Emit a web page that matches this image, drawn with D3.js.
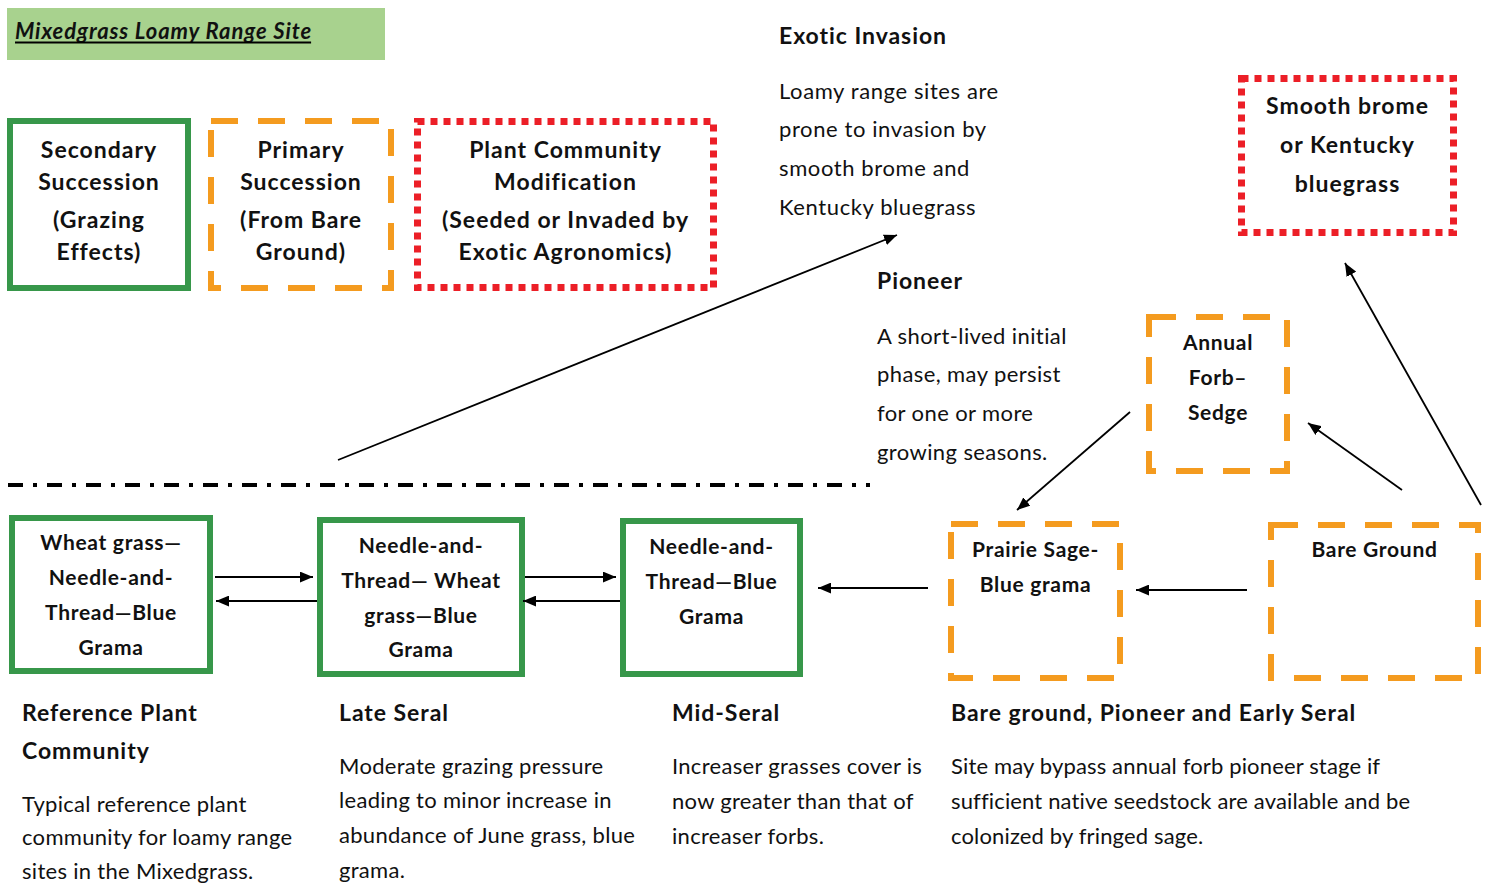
<!DOCTYPE html>
<html>
<head>
<meta charset="utf-8">
<script src="https://cdn.jsdelivr.net/npm/d3@7"></script>
<style>
  body { margin: 0; background: #fff; }
  text { font-family: Lato, "Open Sans", sans-serif; fill: #111; }
</style>
</head>
<body>
<script>
// ---- content ----
var titleText = "Mixedgrass Loamy Range Site";

var legendLabels = [
  ["Secondary", "Succession", "(Grazing", "Effects)"],
  ["Primary", "Succession", "(From Bare", "Ground)"],
  ["Plant Community", "Modification", "(Seeded or Invaded by", "Exotic Agronomics)"]
];
var legendKinds = ["solid", "dashed", "dotted"];

var stateLabels = [
  ["Wheat grass\u2014", "Needle-and-", "Thread\u2014Blue", "Grama"],
  ["Needle-and-", "Thread\u2014 Wheat", "grass\u2014Blue", "Grama"],
  ["Needle-and-", "Thread\u2014Blue", "Grama"],
  ["Prairie Sage-", "Blue grama"],
  ["Bare Ground"],
  ["Annual", "Forb\u2013", "Sedge"],
  ["Smooth brome", "or Kentucky", "bluegrass"]
];
var stateKinds = ["solid", "solid", "solid", "dashed", "dashed", "dashed", "dotted"];

var noteTitles = [
  ["Exotic Invasion"],
  ["Pioneer"],
  ["Reference Plant", "Community"],
  ["Late Seral"],
  ["Mid-Seral"],
  ["Bare ground, Pioneer and Early Seral"]
];
var noteBodies = [
  ["Loamy range sites are", "prone to invasion by", "smooth brome and", "Kentucky bluegrass"],
  ["A short-lived initial", "phase, may persist", "for one or more", "growing seasons."],
  ["Typical reference plant", "community for loamy range", "sites in the Mixedgrass."],
  ["Moderate grazing pressure", "leading to minor increase in", "abundance of June grass, blue", "grama."],
  ["Increaser grasses cover is", "now greater than that of", "increaser forbs."],
  ["Site may bypass annual forb pioneer stage if", "sufficient native seedstock are available and be", "colonized by fringed sage."]
];

// ---- layout (pixels) ----
var legendBoxes = [[7,118,191,291],[208,118,394,291],[414,118,717,291]];
var legendLineY = [150,182,220,252];
var stateBoxes = [[9,515,213,674],[317,517,525,677],[620,518,803,677],[948,521,1123,681],
                  [1268,522,1481,681],[1146,314,1290,474],[1238,75,1457,236]];
var stateFirstY = [543,546,547,550,550,343,106];
var stateStep = [35,34.7,35,35,35,35,39];
var noteX = [779,877,22,339,672,951];
var noteTitleY = [36,281,713,713,713,713];
var noteBodyY = [91,336,804,766,766,766];
var noteBodyStep = [38.7,38.7,33.5,34.7,35,35];
var noteBodySpacing = [0.6,0.4,0.3,0.3,0.3,0.15];
var arrows = [
  [215,577,313,577],[317,601,216,601],[525,577,616,577],[620,601,523,601],
  [928,588,818,588],[1247,590,1136,590],
  [338,460,897,235],[1130,412,1017,510],[1402,490,1308,423],[1481,505,1345,263]
];

var colors = {solid:"#37974a", dashed:"#f49b1f", dotted:"#ec1f27"};
var dashes = {solid:null, dashed:"27,20", dotted:"7,6"};

var width = 1493, height = 884;
var svg = d3.select("body").append("svg")
  .attr("width", width).attr("height", height);

// arrow head
svg.append("defs").append("marker")
  .attr("id", "head")
  .attr("viewBox", "0 0 12 10")
  .attr("refX", 12).attr("refY", 5)
  .attr("markerWidth", 13).attr("markerHeight", 11)
  .attr("markerUnits", "userSpaceOnUse")
  .attr("orient", "auto")
  .append("path").attr("d", "M0,0 L12,5 L0,10 Z").attr("fill", "#000");

// title
svg.append("rect").attr("x", 7).attr("y", 8).attr("width", 378).attr("height", 52).attr("fill", "#a8d28e");
var t = svg.append("text").attr("x", 15).attr("y", 39)
  .attr("font-size", 22).attr("font-weight", "bold").attr("font-style", "italic")
  .attr("letter-spacing", 0.9)
  .text(titleText);
var tw = t.node().getComputedTextLength();
svg.append("line").attr("x1", 15).attr("x2", 14 + tw).attr("y1", 42.5).attr("y2", 42.5)
  .attr("stroke", "#000").attr("stroke-width", 2);

function drawBox(b, kind) {
  var sw = kind === "dotted" ? 7 : 6;
  svg.append("rect")
    .attr("x", b[0] + sw/2).attr("y", b[1] + sw/2)
    .attr("width", b[2] - b[0] - sw).attr("height", b[3] - b[1] - sw)
    .attr("fill", "none")
    .attr("stroke", colors[kind])
    .attr("stroke-width", sw)
    .attr("stroke-dasharray", dashes[kind]);
}

function drawLines(lines, cx, y0, step, size, weight, anchor, ls) {
  svg.append("g").selectAll("text")
    .data(lines)
    .enter()
    .append("text")
    .attr("x", cx)
    .attr("y", function(d, i) { return y0 + i * step; })
    .attr("dy", "0.35em")
    .attr("text-anchor", anchor)
    .attr("font-size", size)
    .attr("font-weight", weight)
    .attr("letter-spacing", ls)
    .text(function(d) { return d; });
}

// legend boxes
legendLabels.forEach(function(lines, i) {
  var b = legendBoxes[i];
  drawBox(b, legendKinds[i]);
  var ys = legendLineY;
  svg.append("g").selectAll("text").data(lines).enter().append("text")
    .attr("x", (b[0] + b[2]) / 2)
    .attr("y", function(d, j) { return ys[j]; })
    .attr("dy", "0.35em").attr("text-anchor", "middle")
    .attr("font-size", 23).attr("font-weight", "bold")
    .attr("letter-spacing", 1)
    .text(function(d) { return d; });
});

// state boxes
stateLabels.forEach(function(lines, i) {
  var b = stateBoxes[i];
  drawBox(b, stateKinds[i]);
  var fs = i === 6 ? 23 : 21;
  var ls = i === 6 ? 1 : 0.7;
  drawLines(lines, (b[0] + b[2]) / 2, stateFirstY[i], stateStep[i], fs, "bold", "middle", ls);
});

// notes
noteTitles.forEach(function(lines, i) {
  drawLines(lines, noteX[i], noteTitleY[i], 38, 23, "bold", "start", 0.95);
  drawLines(noteBodies[i], noteX[i], noteBodyY[i], noteBodyStep[i], 22, "normal", "start", noteBodySpacing[i]);
});

// dash-dot divider
svg.append("line").attr("x1", 8).attr("x2", 870).attr("y1", 485).attr("y2", 485)
  .attr("stroke", "#000").attr("stroke-width", 4)
  .attr("stroke-dasharray", "15,10,4,10");

// arrows
svg.append("g").selectAll("line")
  .data(arrows)
  .enter()
  .append("line")
  .attr("x1", function(d) { return d[0]; })
  .attr("y1", function(d) { return d[1]; })
  .attr("x2", function(d) { return d[2]; })
  .attr("y2", function(d) { return d[3]; })
  .attr("stroke", "#000")
  .attr("stroke-width", 1.8)
  .attr("marker-end", "url(#head)");
</script>
</body>
</html>
